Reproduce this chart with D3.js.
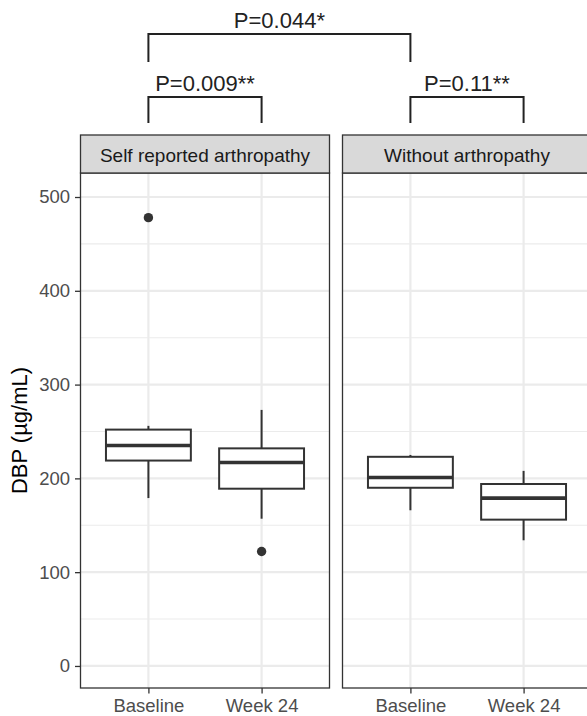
<!DOCTYPE html>
<html>
<head>
<meta charset="utf-8">
<script src="https://cdn.jsdelivr.net/npm/d3@7"></script>
<style>
  body { margin: 0; background: #fff; }
  text { font-family: "Liberation Sans", Arial, Helvetica, sans-serif; }
</style>
</head>
<body>
<div class="chart"></div>
<script>
var facets = ["Self reported arthropathy", "Without arthropathy"];
var timepoints = ["Baseline", "Week 24"];
// box stats per facet, per timepoint: [lower whisker, q1, median, q3, upper whisker]
var boxStats = [
  [[179, 219, 235, 252, 256], [157, 189, 217, 232, 273]],
  [[166, 190, 201, 223, 225], [134, 156, 179, 194, 208]]
];
var outliers = [
  [[478], [122]],
  [[], []]
];
var yTicks = [0, 100, 200, 300, 400, 500];
var yMinor = [50, 150, 250, 350, 450];
var comparisons = [
  { label: "P=0.009**", from: [0, 0], to: [0, 1], level: 1 },
  { label: "P=0.11**", from: [1, 0], to: [1, 1], level: 1 },
  { label: "P=0.044*", from: [0, 0], to: [1, 0], level: 0 }
];

var W = 587, H = 716;
var panelW = 249, panelTop = 173, panelBottom = 688, stripH = 38;
var panelLeft = [80.5, 342.5];

var svg = d3.select('.chart')
  .append('svg')
  .attr('width', W)
  .attr('height', H);

var y = d3.scaleLinear()
  .domain([-23.5, 525.6])
  .range([panelBottom, panelTop]);

// discrete x scale for each panel, ggplot style expansion
var xs = panelLeft.map(function (l) {
  return d3.scalePoint()
    .domain(timepoints)
    .range([l, l + panelW])
    .padding(0.6);
});

facets.forEach(function (f, fi) {
  var x = xs[fi];
  var g = svg.append('g');
  var l = panelLeft[fi];

  // grid
  g.selectAll('.minor')
    .data(yMinor)
    .enter()
    .append('line')
    .attr('x1', l).attr('x2', l + panelW)
    .attr('y1', function (d) { return y(d); })
    .attr('y2', function (d) { return y(d); })
    .style('stroke', '#ebebeb')
    .style('stroke-width', 1.1);
  g.selectAll('.major')
    .data(yTicks)
    .enter()
    .append('line')
    .attr('x1', l).attr('x2', l + panelW)
    .attr('y1', function (d) { return y(d); })
    .attr('y2', function (d) { return y(d); })
    .style('stroke', '#ebebeb')
    .style('stroke-width', 2.2);
  g.selectAll('.vgrid')
    .data(timepoints)
    .enter()
    .append('line')
    .attr('x1', function (d) { return x(d); })
    .attr('x2', function (d) { return x(d); })
    .attr('y1', panelTop).attr('y2', panelBottom)
    .style('stroke', '#ebebeb')
    .style('stroke-width', 2.2);

  // boxes
  var bw = x.step() * 0.75;
  timepoints.forEach(function (t, ti) {
    var s = boxStats[fi][ti];
    var cx = x(t);
    g.append('line')
      .attr('x1', cx).attr('x2', cx)
      .attr('y1', y(s[3])).attr('y2', y(s[4]))
      .style('stroke', '#333').style('stroke-width', 2);
    g.append('line')
      .attr('x1', cx).attr('x2', cx)
      .attr('y1', y(s[1])).attr('y2', y(s[0]))
      .style('stroke', '#333').style('stroke-width', 2);
    g.append('rect')
      .attr('x', cx - bw / 2)
      .attr('y', y(s[3]))
      .attr('width', bw)
      .attr('height', y(s[1]) - y(s[3]))
      .style('fill', '#fff')
      .style('stroke', '#333')
      .style('stroke-width', 2);
    g.append('line')
      .attr('x1', cx - bw / 2).attr('x2', cx + bw / 2)
      .attr('y1', y(s[2])).attr('y2', y(s[2]))
      .style('stroke', '#333').style('stroke-width', 3.6);
    g.selectAll('.out' + ti)
      .data(outliers[fi][ti])
      .enter()
      .append('circle')
      .attr('cx', cx)
      .attr('cy', function (d) { return y(d); })
      .attr('r', 4.7)
      .style('fill', '#333');
  });

  // panel border
  g.append('rect')
    .attr('x', l).attr('y', panelTop)
    .attr('width', panelW).attr('height', panelBottom - panelTop)
    .style('fill', 'none')
    .style('stroke', '#333')
    .style('stroke-width', 1.3);

  // strip
  g.append('rect')
    .attr('x', l).attr('y', panelTop - stripH)
    .attr('width', panelW).attr('height', stripH)
    .style('fill', '#d9d9d9')
    .style('stroke', '#333')
    .style('stroke-width', 1.3);
  g.append('text')
    .attr('x', l + panelW / 2)
    .attr('y', 162)
    .style('text-anchor', 'middle')
    .style('font-size', '19px')
    .style('fill', '#1a1a1a')
    .text(f);

  // x axis
  var xAxis = d3.axisBottom(x).tickSize(5.5).tickPadding(5);
  var ax = svg.append('g')
    .attr('transform', 'translate(0,' + panelBottom + ')')
    .call(xAxis);
  ax.select('.domain').remove();
  ax.selectAll('line').style('stroke', '#333').style('stroke-width', 1.3);
  ax.selectAll('text')
    .style('font-size', '18.5px')
    .style('fill', '#4d4d4d')
    .attr('dy', '0.71em');
});

// y axis
var yAxis = d3.axisLeft(y).tickValues(yTicks).tickSize(5.5).tickPadding(5);
var ay = svg.append('g')
  .attr('transform', 'translate(' + panelLeft[0] + ',0)')
  .call(yAxis);
ay.select('.domain').remove();
ay.selectAll('line').style('stroke', '#333').style('stroke-width', 1.3);
ay.selectAll('text')
  .style('font-size', '18.5px')
  .style('fill', '#4d4d4d')
  .style('font-family', '"Liberation Sans", Arial, sans-serif');

svg.append('text')
  .attr('transform', 'translate(27,' + ((panelTop + panelBottom) / 2) + ') rotate(-90)')
  .style('text-anchor', 'middle')
  .style('font-size', '22px')
  .style('fill', '#000')
  .text('DBP (µg/mL)');

// significance brackets
var levels = [{ bar: 34, tip: 62, label: 28 }, { bar: 97, tip: 123, label: 90.7 }];
comparisons.forEach(function (c) {
  var x1 = xs[c.from[0]](timepoints[c.from[1]]);
  var x2 = xs[c.to[0]](timepoints[c.to[1]]);
  var lv = levels[c.level];
  svg.append('path')
    .attr('d', 'M' + x1 + ',' + lv.tip + 'V' + lv.bar + 'H' + x2 + 'V' + lv.tip)
    .style('fill', 'none')
    .style('stroke', '#222')
    .style('stroke-width', 2);
  svg.append('text')
    .attr('x', (x1 + x2) / 2)
    .attr('y', lv.label)
    .style('text-anchor', 'middle')
    .style('font-size', '22px')
    .style('fill', '#222')
    .text(c.label);
});
</script>
</body>
</html>
